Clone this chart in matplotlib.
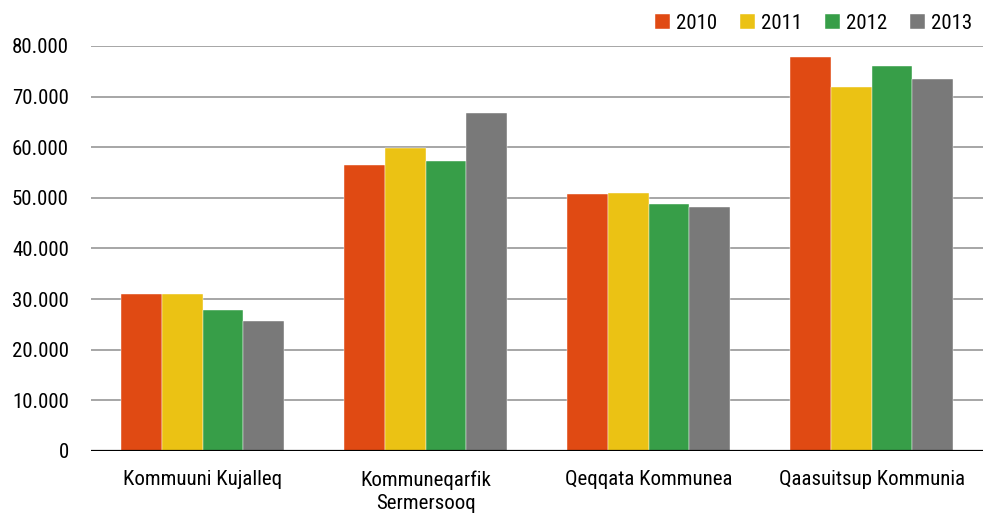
import matplotlib
matplotlib.use("Agg")
import matplotlib.pyplot as plt
import numpy as np
from matplotlib.ticker import FuncFormatter

plt.rcParams['font.family'] = ['Roboto Condensed', 'DejaVu Sans']

categories = ["Kommuuni Kujalleq", "Kommuneqarfik\nSermersooq", "Qeqqata Kommunea", "Qaasuitsup Kommunia"]
years = ["2010", "2011", "2012", "2013"]
v2010 = [31000, 56500, 50700, 77900]
v2011 = [31000, 59900, 50900, 71800]
v2012 = [27900, 57200, 48700, 76000]
v2013 = [25600, 66700, 48100, 73500]
series = [v2010, v2011, v2012, v2013]
colors = ["#E04A13", "#EBC214", "#379E48", "#797979"]

fig = plt.figure(figsize=(9.9, 5.16), dpi=100)
ax = fig.add_axes([0.092, 0.126, 0.901, 0.785])

x = np.arange(len(categories))
w = 0.182
for i, (vals, c, lab) in enumerate(zip(series, colors, years)):
    ax.bar(x + (i - 1.5) * w, vals, width=w, color=c, label=lab, zorder=3,
           edgecolor='white', linewidth=0.3)

ax.set_xlim(-0.5, len(categories) - 0.5)
ax.set_ylim(0, 80000)
ax.set_yticks(np.arange(0, 80001, 10000))
ax.yaxis.set_major_formatter(FuncFormatter(lambda v, p: "0" if v == 0 else f"{int(v):,}".replace(",", ".")))
ax.set_xticks(x)
ax.set_xticklabels(categories, fontsize=15, linespacing=1.25)
ax.tick_params(axis='y', labelsize=15, length=0, pad=16)
ax.tick_params(axis='x', length=0, pad=14)
for g in np.arange(10000, 80001, 10000):
    ax.axhline(g, color="#A6A6A6", linewidth=1.4, zorder=1)
ax.axhline(0, color="black", linewidth=1.6, zorder=4)
for s in ax.spines.values():
    s.set_visible(False)

leg = ax.legend(loc='lower right', bbox_to_anchor=(0.997, 1.012), ncol=4, frameon=False,
                fontsize=15, handlelength=0.7, handleheight=0.7, handletextpad=0.3,
                columnspacing=1.1, borderaxespad=0)

fig.savefig("out.png", dpi=100)
